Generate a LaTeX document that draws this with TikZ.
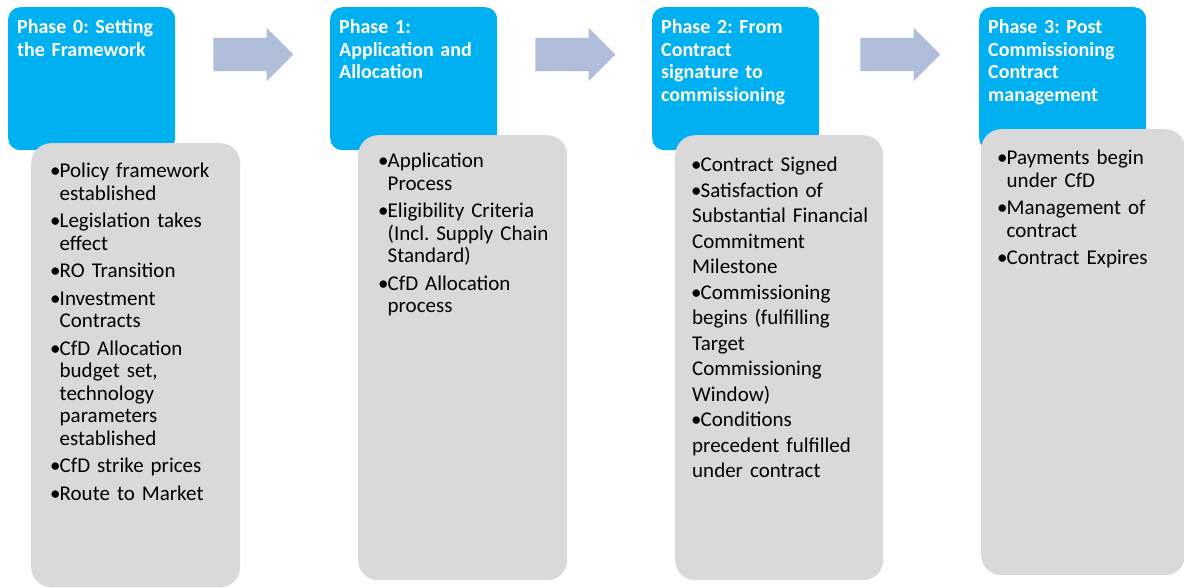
\documentclass[tikz,border=0pt]{standalone}
\usepackage{fontspec}
\setmainfont{Carlito}
\usetikzlibrary{shapes.arrows}
\usetikzlibrary{positioning}
\definecolor{phaseblue}{RGB}{0,176,240}
\definecolor{itemgray}{RGB}{217,217,217}
\definecolor{flowgray}{RGB}{176,190,218}
\newcommand{\blt}{\makebox[8.5pt][l]{\hspace*{-1pt}•}}
\newcommand{\hng}{\hspace*{8.5pt}}
\frenchspacing

\begin{document}
\begin{tikzpicture}[x=1pt, y=-1pt,
    phase/.style={rectangle, rounded corners=12pt, fill=phaseblue, minimum width=167pt, minimum height=143pt, anchor=north west, inner sep=0pt},
    items/.style={rectangle, rounded corners=20pt, fill=itemgray, minimum width=209pt, minimum height=445pt, anchor=north west, inner sep=0pt},
    heading/.style={anchor=base west, inner sep=0pt, text=white, font=\fontsize{20}{22.5}\selectfont\bfseries, align=left, text width=160pt},
    list/.style={anchor=base west, inner sep=0pt, text=black, font=\fontsize{21}{22.5}\selectfont, align=left, text width=205pt},
    flow/.style={single arrow, fill=flowgray, minimum height=80pt, inner xsep=0pt, inner ysep=16.5pt, single arrow head extend=10pt}]
    \useasboundingbox (0,0) rectangle (1184,588);

    % phase headers
    \node[phase] (frame) at (8,7) {};
    \node[phase] (alloc) at (330,7) {};
    \node[phase] (contract) at (652,7) {};
    \node[phase] (post) at (979,7) {};

    % arrows between phases
    \node[flow] (flow01) at (245,54.5) {};
    \node[flow] (flow12) at (567,54.5) {};
    \node[flow] (flow23) at (892,54.5) {};

    % item boxes
    \node[items, minimum height=444pt] (frameitems) at (31,143) {};
    \node[items] (allocitems) at (358,135) {};
    \node[items, minimum width=208pt] (contractitems) at (675,135) {};
    \node[items, minimum width=204pt, minimum height=446pt] (postitems) at (981,129) {};

    % texts
    \node[heading] (frametitle) at ([shift={(9pt,-27pt)}]frame.north west) {Phase 0: Setting\\the Framework};
    \node[heading] (alloctitle) at ([shift={(9pt,-27pt)}]alloc.north west) {Phase 1:\\Application and\\Allocation};
    \node[heading] (contracttitle) at ([shift={(9pt,-27pt)}]contract.north west) {Phase 2: From\\Contract\\signature to\\commissioning};
    \node[heading] (posttitle) at ([shift={(9pt,-27pt)}]post.north west) {Phase 3: Post\\Commissioning\\Contract\\management};

    \node[list] (framelist) at ([shift={(20pt,-35pt)}]frameitems.north west)
        {\blt Policy framework\\\hng established\\[5pt]
         \blt Legislation takes\\\hng effect\\[5pt]
         \blt RO Transition\\[5pt]
         \blt Investment\\\hng Contracts\\[5pt]
         \blt CfD Allocation\\\hng budget set,\\\hng technology\\\hng parameters\\\hng established\\[5pt]
         \blt CfD strike prices\\[5pt]
         \blt Route to Market};
    \node[list] (alloclist) at ([shift={(21pt,-33pt)}]allocitems.north west)
        {\blt Application\\\hng Process\\[5pt]
         \blt Eligibility Criteria\\\hng (Incl. Supply Chain\\\hng Standard)\\[5pt]
         \blt CfD Allocation\\\hng process};
    \node[list, font=\fontsize{21}{25.5}\selectfont] (contractlist) at ([shift={(17pt,-37pt)}]contractitems.north west)
        {\blt Contract Signed\\
         \blt Satisfaction of\\Substantial Financial\\Commitment\\Milestone\\
         \blt Commissioning\\begins (fulfilling\\Target\\Commissioning\\Window)\\
         \blt Conditions\\precedent fulfilled\\under contract};
    \node[list] (postlist) at ([shift={(17pt,-36pt)}]postitems.north west)
        {\blt Payments begin\\\hng under CfD\\[5pt]
         \blt Management of\\\hng contract\\[5pt]
         \blt Contract Expires};
\end{tikzpicture}
\end{document}
